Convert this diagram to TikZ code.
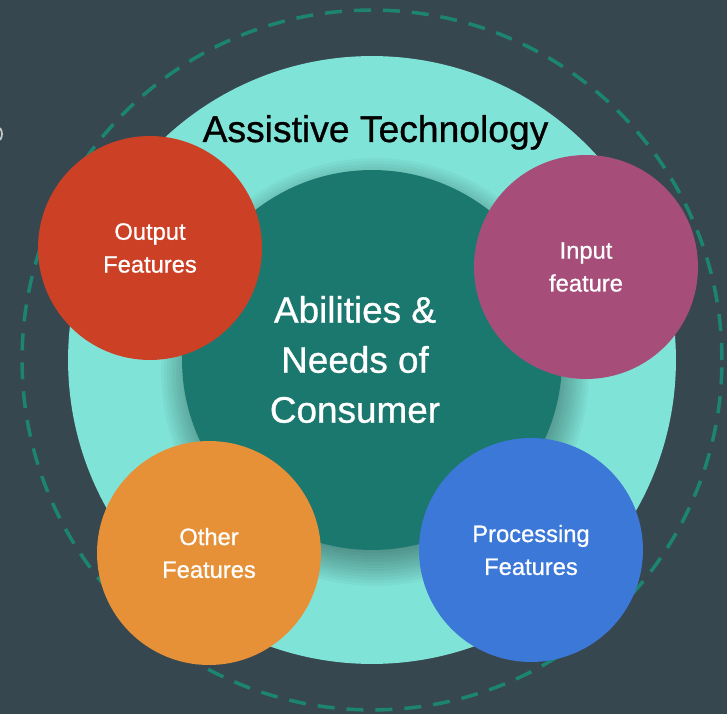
\documentclass[tikz,border=0pt]{standalone}
\usepackage{fontspec}
\setmainfont{Liberation Sans}[FakeBold=0.8]
\usepackage{tikz}

\definecolor{slate}{HTML}{37474F}
\definecolor{dashteal}{HTML}{1C8572}
\definecolor{ringaqua}{HTML}{80E3D7}
\definecolor{coreteal}{HTML}{1B786E}
\definecolor{outred}{HTML}{CC4125}
\definecolor{inmauve}{HTML}{A64E79}
\definecolor{othorange}{HTML}{E69138}
\definecolor{procblue}{HTML}{3C78D8}

\begin{document}
\begin{tikzpicture}[x=0.02cm, y=0.02cm,
    feature/.style={circle, minimum size=4.48cm, inner sep=0pt, text=white,
        align=center, font=\fontsize{13.5}{18.7}\selectfont}]
    \fill[slate] (0,0) rectangle (727,714);
    \useasboundingbox (0,0) rectangle (727,714);
    \draw[white!70!slate, line width=1pt] (0,586) arc[start angle=37, end angle=-37, radius=0.2cm];

    % outer dashed ring
    \node[circle, draw=dashteal, line width=0.07cm, dash pattern=on 0.34cm off 0.24cm,
        minimum size=14cm, inner sep=0pt] (outer) at (372,354) {};

    % Assistive Technology ring
    \node[circle, fill=ringaqua, minimum size=12.16cm, inner sep=0pt] (tech) at (372,354) {};
    \node[anchor=base, font=\fontsize{21.2}{25}\selectfont] (techlabel) at (375.5,572) {Assistive Technology};

    % blurred drop shadow under the core
    \coordinate (shade) at (375,342);
    \foreach \r in {166,169,...,214}
        \fill[black, opacity=0.031] (shade) circle[radius={\r*0.2mm}];

    % core
    \node[circle, fill=coreteal, minimum size=7.6cm, inner sep=0pt] (core) at (372,354) {};
    \node[text=white, align=center, inner sep=0pt, font=\fontsize{21}{28.45}\selectfont]
        (needs) at (355,354.5) {Abilities \&\\Needs of\\Consumer};

    % features
    \node[feature, fill=outred] (output) at (150,466) {Output\\Features};
    \node[feature, fill=inmauve] (input) at (586,447) {Input\\feature};
    \node[feature, fill=othorange] (other) at (209,161) {Other\\Features};
    \node[feature, fill=procblue] (processing) at (531,164) {Processing\\Features};
\end{tikzpicture}
\end{document}
